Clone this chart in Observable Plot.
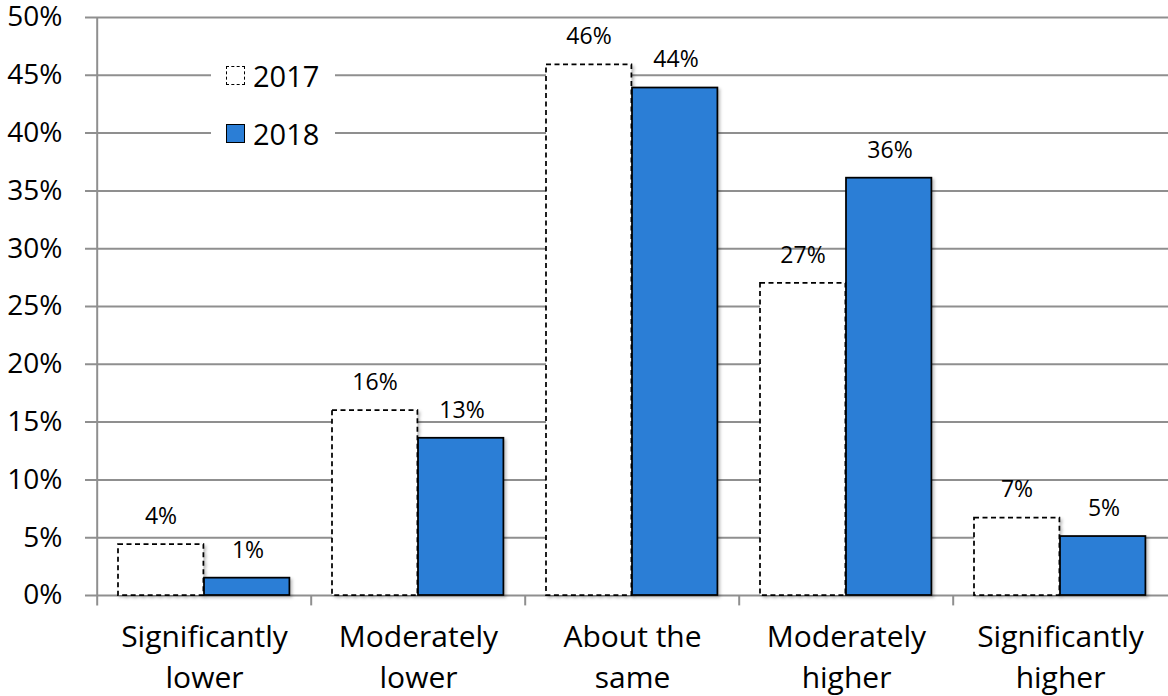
<!DOCTYPE html>
<html>
<head>
<meta charset="utf-8">
<script src="https://cdn.jsdelivr.net/npm/d3@7"></script>
<script src="https://cdn.jsdelivr.net/npm/@observablehq/plot@0.6"></script>
<style>
  html, body { margin: 0; padding: 0; background: #fff; }
  #wrap { position: relative; width: 1168px; height: 696px; font-family: "Open Sans", Lato, sans-serif; }
  #legend { position: absolute; left: 211px; top: 58px; width: 124px; height: 96px; background: #fff; }
  .item { position: absolute; left: 15px; display: flex; align-items: center; font-size: 29px; color: #000; }
  .sw { width: 19px; height: 19px; box-sizing: border-box; margin-right: 8px; }
</style>
</head>
<body>
<div id="wrap"></div>
<script>
const categories = ["Significantly lower", "Moderately lower", "About the same", "Moderately higher", "Significantly higher"];
const categoryLabels = ["Significantly\nlower", "Moderately\nlower", "About the\nsame", "Moderately\nhigher", "Significantly\nhigher"];
const values2017 = [4.4, 16.0, 45.9, 27.0, 6.7];
const values2018 = [1.5, 13.6, 43.9, 36.1, 5.1];
const labels2017 = ["4%", "16%", "46%", "27%", "7%"];
const labels2018 = ["1%", "13%", "44%", "36%", "5%"];
const yTicks = [0, 5, 10, 15, 20, 25, 30, 35, 40, 45, 50];
const seriesNames = ["2017", "2018"];
const blue = "#2b7ed6";
const grid = "#8f8f8f";

const d2017 = categories.map((c, i) => ({cat: c, v: values2017[i], label: labels2017[i]}));
const d2018 = categories.map((c, i) => ({cat: c, v: values2018[i], label: labels2018[i]}));
const catText = categories.map((c, i) => ({cat: c, text: categoryLabels[i]}));
const half = (1168 - 95) / categories.length / 2;

const chart = Plot.plot({
  width: 1168,
  height: 696,
  marginLeft: 95,
  marginRight: 0,
  marginTop: 17,
  marginBottom: 101,
  style: {fontFamily: "'Open Sans', Lato, sans-serif", background: "#fff", overflow: "visible"},
  x: {domain: categories, padding: 0, axis: null},
  y: {domain: [0, 50], axis: null},
  marks: [
    Plot.ruleY(yTicks, {y: d => d, stroke: grid, strokeWidth: 2, insetLeft: -10}),
    Plot.ruleX([categories[0]], {x: d => d, dx: -half, y1: -0.9, y2: 50, stroke: grid, strokeWidth: 2}),
    Plot.ruleX(categories.slice(1), {x: d => d, dx: -half, y1: -0.9, y2: 0, stroke: grid, strokeWidth: 2}),
    Plot.text(yTicks, {y: d => d, text: d => d + "%", frameAnchor: "left", textAnchor: "end", dx: -33, fontSize: 28, fill: "#000"}),
    Plot.barY(d2017, {x: "cat", y: "v", fill: "#fff", stroke: "#000", strokeWidth: 1.75, strokeDasharray: "5,3.5", insetLeft: 21, insetRight: 107.6}),
    Plot.barY(d2018, {x: "cat", y: "v", fill: blue, stroke: "#000", strokeWidth: 1.75, insetLeft: 107, insetRight: 21.6}),
    Plot.text(d2017, {x: "cat", y: "v", text: "label", dx: -43.5, dy: -28, fontSize: 23, fill: "#000"}),
    Plot.text(d2018, {x: "cat", y: "v", text: "label", dx: 43.5, dy: -28, fontSize: 23, fill: "#000"}),
    Plot.text(catText, {x: "cat", text: "text", frameAnchor: "bottom", lineAnchor: "top", dy: 22, fontSize: 30, lineHeight: 1.37, fill: "#000"})
  ]
});

chart.querySelectorAll('g[aria-label="bar"]').forEach(g => g.style.filter = "drop-shadow(2px 2px 1.5px rgba(0,0,0,0.25))");

const wrap = document.getElementById("wrap");
wrap.appendChild(chart);
const legend = document.createElement("div");
legend.id = "legend";
legend.innerHTML = `
  <div class="item" style="top:-2px"><div class="sw" style="border:1.5px dashed #000;background:#fff"></div>${seriesNames[0]}</div>
  <div class="item" style="top:56px"><div class="sw" style="border:1.5px solid #000;background:${blue}"></div>${seriesNames[1]}</div>`;
wrap.appendChild(legend);
</script>
</body>
</html>
